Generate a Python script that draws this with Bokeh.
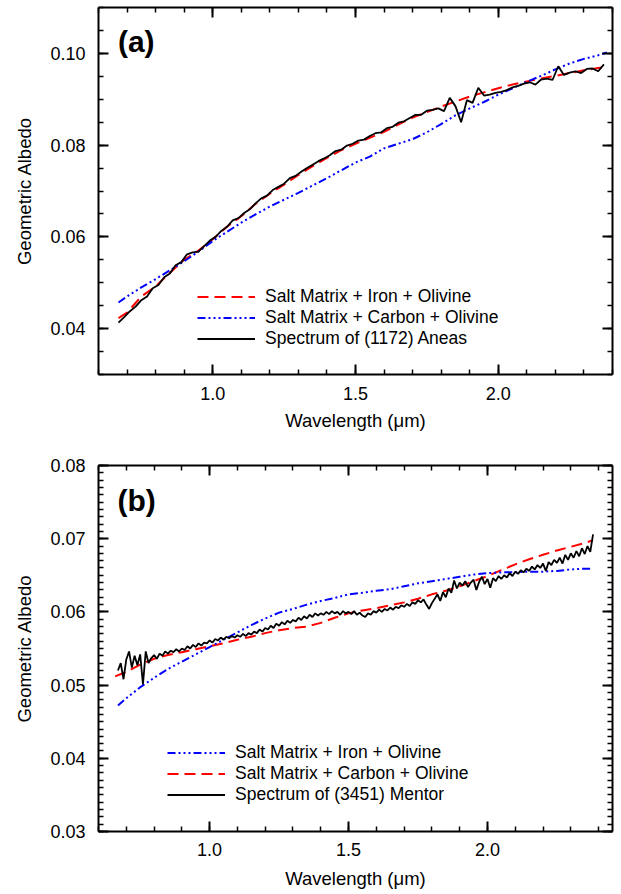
import numpy as np
from bokeh.plotting import figure
from bokeh.models import (Range1d, LinearAxis, SingleIntervalTicker, PrintfTickFormatter,
                          CustomJSTickFormatter, Legend, LegendItem, Label)
from bokeh.layouts import column
from bokeh.embed import file_html
from bokeh.resources import INLINE

FONT = "Liberation Sans"

# ---------------- Panel (a): (1172) Aneas ----------------
a_model_wl = [0.67, 0.70, 0.75, 0.80, 0.85, 0.90, 0.95, 1.00, 1.05, 1.10, 1.15, 1.20,
              1.25, 1.30, 1.35, 1.40, 1.45, 1.50, 1.55, 1.60, 1.65, 1.70, 1.75, 1.80,
              1.85, 1.90, 1.95, 2.00, 2.05, 2.10, 2.15, 2.20, 2.25, 2.30, 2.35, 2.38]
a_iron = [0.0423, 0.0435, 0.0470, 0.0492, 0.0522, 0.0550, 0.0570, 0.0595, 0.0622, 0.0645,
          0.0672, 0.0694, 0.0714, 0.0735, 0.0754, 0.0772, 0.0789, 0.0803, 0.0816, 0.0829,
          0.0845, 0.0860, 0.0872, 0.0884, 0.0895, 0.0906, 0.0915, 0.0924, 0.0932, 0.0939,
          0.0945, 0.0951, 0.0957, 0.0963, 0.0968, 0.0971]
a_carbon = [0.0457, 0.0470, 0.0490, 0.0508, 0.0527, 0.0547, 0.0568, 0.0591, 0.0611, 0.0631,
            0.0649, 0.0666, 0.0681, 0.0696, 0.0712, 0.0728, 0.0745, 0.0762, 0.0775, 0.0793,
            0.0803, 0.0813, 0.0828, 0.0846, 0.0865, 0.0880, 0.0894, 0.0910, 0.0924, 0.0938,
            0.0951, 0.0965, 0.0978, 0.0988, 0.0996, 0.1002]
a_spec_start, a_spec_step = 0.67, 0.02
a_spectrum = [0.0413, 0.0425, 0.0438, 0.0448, 0.0462, 0.0470, 0.0488, 0.0495, 0.0512, 0.0520,
              0.0538, 0.0545, 0.0562, 0.0566, 0.0568, 0.0580, 0.0592, 0.0600, 0.0613, 0.0622,
              0.0636, 0.0641, 0.0652, 0.0660, 0.0673, 0.0684, 0.0690, 0.0702, 0.0709, 0.0716,
              0.0728, 0.0733, 0.0742, 0.0750, 0.0757, 0.0765, 0.0771, 0.0778, 0.0787, 0.0790,
              0.0799, 0.0803, 0.0810, 0.0812, 0.0820, 0.0826, 0.0828, 0.0837, 0.0840, 0.0849,
              0.0852, 0.0859, 0.0866, 0.0866, 0.0875, 0.0877, 0.0880, 0.0874, 0.0903, 0.0885,
              0.0850, 0.0898, 0.0892, 0.0925, 0.0908, 0.0910, 0.0914, 0.0916, 0.0920, 0.0926,
              0.0929, 0.0934, 0.0937, 0.0932, 0.0943, 0.0945, 0.0942, 0.0972, 0.0953, 0.0958,
              0.0961, 0.0957, 0.0966, 0.0967, 0.0961, 0.0976]
a_wl = np.round(a_spec_start + a_spec_step * np.arange(len(a_spectrum)), 3)
a_labels = ["Salt Matrix + Iron + Olivine", "Salt Matrix + Carbon + Olivine",
            "Spectrum of (1172) Aneas"]

# ---------------- Panel (b): (3451) Mentor ----------------
b_carbon_wl = [0.66, 0.70, 0.75, 0.80, 0.85, 0.90, 0.95, 1.00, 1.05, 1.10, 1.15, 1.20,
               1.25, 1.30, 1.35, 1.40, 1.45, 1.50, 1.55, 1.60, 1.65, 1.70, 1.75, 1.80,
               1.85, 1.90, 1.95, 2.00, 2.05, 2.10, 2.15, 2.20, 2.25, 2.30, 2.35, 2.38]
b_carbon = [0.0512, 0.0518, 0.0528, 0.0536, 0.0541, 0.0545, 0.0549, 0.0553, 0.0557, 0.0562,
            0.0566, 0.0571, 0.0575, 0.0578, 0.0580, 0.0585, 0.0592, 0.0598, 0.0602, 0.0605,
            0.0609, 0.0613, 0.0618, 0.0624, 0.0629, 0.0635, 0.0642, 0.0649, 0.0657, 0.0665,
            0.0672, 0.0678, 0.0684, 0.0689, 0.0694, 0.0698]
b_iron_wl = [0.67, 0.70, 0.75, 0.80, 0.85, 0.90, 0.95, 1.00, 1.05, 1.10, 1.15, 1.20,
             1.25, 1.30, 1.35, 1.40, 1.45, 1.50, 1.55, 1.60, 1.65, 1.70, 1.75, 1.80,
             1.85, 1.90, 1.95, 2.00, 2.05, 2.10, 2.15, 2.20, 2.25, 2.30, 2.35, 2.38]
b_iron = [0.0472, 0.0482, 0.0497, 0.0510, 0.0522, 0.0532, 0.0542, 0.0552, 0.0562, 0.0572,
          0.0582, 0.0591, 0.0599, 0.0604, 0.0610, 0.0615, 0.0619, 0.0624, 0.0626, 0.0629,
          0.0631, 0.0635, 0.0639, 0.0642, 0.0645, 0.0648, 0.0651, 0.0653, 0.0654, 0.0654,
          0.0655, 0.0655, 0.0656, 0.0658, 0.0659, 0.0659]
b_spec_start, b_spec_step = 0.67, 0.01
b_spectrum = [0.0520, 0.0530, 0.0508, 0.0535, 0.0546, 0.0524, 0.0540, 0.0527, 0.0542, 0.0501,
              0.0546, 0.0530, 0.0537, 0.0541, 0.0536, 0.0543, 0.0540, 0.0546, 0.0543, 0.0547,
              0.0545, 0.0549, 0.0546, 0.0550, 0.0548, 0.0553, 0.0550, 0.0555, 0.0552, 0.0557,
              0.0554, 0.0558, 0.0557, 0.0561, 0.0558, 0.0563, 0.0561, 0.0565, 0.0562, 0.0566,
              0.0564, 0.0567, 0.0565, 0.0568, 0.0566, 0.0570, 0.0567, 0.0571, 0.0569, 0.0573,
              0.0571, 0.0576, 0.0573, 0.0578, 0.0576, 0.0581, 0.0578, 0.0584, 0.0581, 0.0586,
              0.0583, 0.0588, 0.0585, 0.0589, 0.0587, 0.0592, 0.0589, 0.0594, 0.0591, 0.0596,
              0.0593, 0.0598, 0.0595, 0.0598, 0.0596, 0.0600, 0.0597, 0.0601, 0.0598, 0.0600,
              0.0596, 0.0601, 0.0598, 0.0600, 0.0597, 0.0601, 0.0596, 0.0599, 0.0595, 0.0593,
              0.0598, 0.0596, 0.0601, 0.0599, 0.0603, 0.0600, 0.0604, 0.0602, 0.0606, 0.0603,
              0.0607, 0.0605, 0.0609, 0.0607, 0.0611, 0.0608, 0.0613, 0.0611, 0.0616, 0.0613,
              0.0617, 0.0610, 0.0604, 0.0612, 0.0618, 0.0624, 0.0615, 0.0627, 0.0620, 0.0632,
              0.0626, 0.0643, 0.0632, 0.0640, 0.0636, 0.0642, 0.0634, 0.0640, 0.0644, 0.0630,
              0.0641, 0.0648, 0.0638, 0.0645, 0.0633, 0.0646, 0.0642, 0.0649, 0.0645, 0.0650,
              0.0647, 0.0653, 0.0649, 0.0655, 0.0652, 0.0657, 0.0654, 0.0659, 0.0656, 0.0662,
              0.0658, 0.0664, 0.0660, 0.0666, 0.0656, 0.0668, 0.0664, 0.0671, 0.0667, 0.0674,
              0.0666, 0.0678, 0.0671, 0.0680, 0.0674, 0.0683, 0.0676, 0.0687, 0.0679, 0.0690,
              0.0682, 0.0706]
b_wl = np.round(b_spec_start + b_spec_step * np.arange(len(b_spectrum)), 3)
b_labels = ["Salt Matrix + Iron + Olivine", "Salt Matrix + Carbon + Olivine",
            "Spectrum of (3451) Mentor"]

x_ticks_major, x_minor_n = 0.5, 5
a_y_major, a_y_minor_n = 0.02, 4
b_y_major, b_y_minor_n = 0.01, 10

RED = "#ff0000"
BLUE = "#0000ff"
RED_DASH = "11 6"
BLUE_DASH = "8 3 2 3 2 3 2 3"


def style_axis(ax, interval, nminor, fmt, labels=True):
    ax.ticker = SingleIntervalTicker(interval=interval, num_minor_ticks=nminor)
    ax.major_tick_in = 10
    ax.major_tick_out = 0
    ax.minor_tick_in = 5
    ax.minor_tick_out = 0
    ax.axis_line_width = 2
    ax.axis_line_color = "black"
    ax.major_tick_line_width = 2
    ax.major_tick_line_color = "black"
    ax.minor_tick_line_width = 1.5
    ax.minor_tick_line_color = "black"
    ax.major_label_text_font = FONT
    ax.major_label_text_color = "black"
    ax.axis_label_text_font = FONT
    ax.axis_label_text_font_style = "normal"
    ax.axis_label_text_color = "black"
    ax.axis_label_text_font_size = "18.5px"
    if labels:
        ax.formatter = PrintfTickFormatter(format=fmt)
        ax.major_label_text_font_size = "18px"
    else:
        ax.formatter = CustomJSTickFormatter(code="return ''")
        ax.major_label_text_font_size = "1px"
        ax.major_label_standoff = 0
        ax.axis_label_standoff = 0


def make_panel(y0, y1, x1, ymaj, yminor, height, top_border, bottom_border,
               xt_standoff, xl_standoff):
    p = figure(width=614, height=height, output_backend="svg",
               toolbar_location=None, x_range=Range1d(0.6, x1), y_range=Range1d(y0, y1),
               min_border_left=98, min_border_right=2, min_border_top=top_border,
               min_border_bottom=bottom_border)
    p.outline_line_color = None
    p.xgrid.visible = False
    p.ygrid.visible = False
    p.background_fill_color = "white"
    p.border_fill_color = "white"
    style_axis(p.xaxis[0], x_ticks_major, x_minor_n, "%.1f")
    style_axis(p.yaxis[0], ymaj, yminor, "%.2f")
    p.xaxis[0].axis_label = "Wavelength (\u03bcm)"
    p.yaxis[0].axis_label = "Geometric Albedo"
    p.xaxis[0].major_label_standoff = xt_standoff
    p.xaxis[0].axis_label_standoff = xl_standoff
    p.yaxis[0].major_label_standoff = 13
    p.yaxis[0].axis_label_standoff = 12
    top = LinearAxis()
    style_axis(top, x_ticks_major, x_minor_n, "%.1f", labels=False)
    p.add_layout(top, "above")
    right = LinearAxis()
    style_axis(right, ymaj, yminor, "%.2f", labels=False)
    p.add_layout(right, "right")
    return p


def add_legend(p, items, loc):
    lg = Legend(items=items, location=loc,
                border_line_color=None, background_fill_alpha=0, padding=0, margin=0,
                spacing=0, glyph_width=58, glyph_height=17, label_height=17,
                label_standoff=10, label_text_font=FONT, label_text_font_size="17.5px",
                label_text_color="black")
    p.add_layout(lg)


# Panel (a)
pa = make_panel(0.03, 0.11, 2.4, a_y_major, a_y_minor_n, 440, 7, 66, 12, 7)
ra = pa.line(a_model_wl, a_iron, line_color=RED, line_width=2, line_dash=RED_DASH)
ba = pa.line(a_model_wl, a_carbon, line_color=BLUE, line_width=2, line_dash=BLUE_DASH)
ka = pa.line(a_wl, a_spectrum, line_color="black", line_width=1.8)
add_legend(pa, [LegendItem(label=a_labels[0], renderers=[ra]),
                LegendItem(label=a_labels[1], renderers=[ba]),
                LegendItem(label=a_labels[2], renderers=[ka])], (99, 25))
pa.add_layout(Label(x=0.668, y=0.1026, text="(a)", text_font=FONT, text_font_style="bold",
                    text_font_size="30px", text_baseline="middle", text_align="left",
                    text_color="black"))

# Panel (b)
pb = make_panel(0.03, 0.08, 2.45, b_y_major, b_y_minor_n, 451, 25, 58, 11, 9)
rb = pb.line(b_carbon_wl, b_carbon, line_color=RED, line_width=2, line_dash=RED_DASH)
bb = pb.line(b_iron_wl, b_iron, line_color=BLUE, line_width=2, line_dash=BLUE_DASH)
kb = pb.line(b_wl, b_spectrum, line_color="black", line_width=1.8)
add_legend(pb, [LegendItem(label=b_labels[0], renderers=[bb]),
                LegendItem(label=b_labels[1], renderers=[rb]),
                LegendItem(label=b_labels[2], renderers=[kb])], (69, 26))
pb.add_layout(Label(x=0.668, y=0.0752, text="(b)", text_font=FONT, text_font_style="bold",
                    text_font_size="30px", text_baseline="middle", text_align="left",
                    text_color="black"))

layout = column(pa, pb, spacing=0)
open("out.html", "w").write(file_html(layout, INLINE))
